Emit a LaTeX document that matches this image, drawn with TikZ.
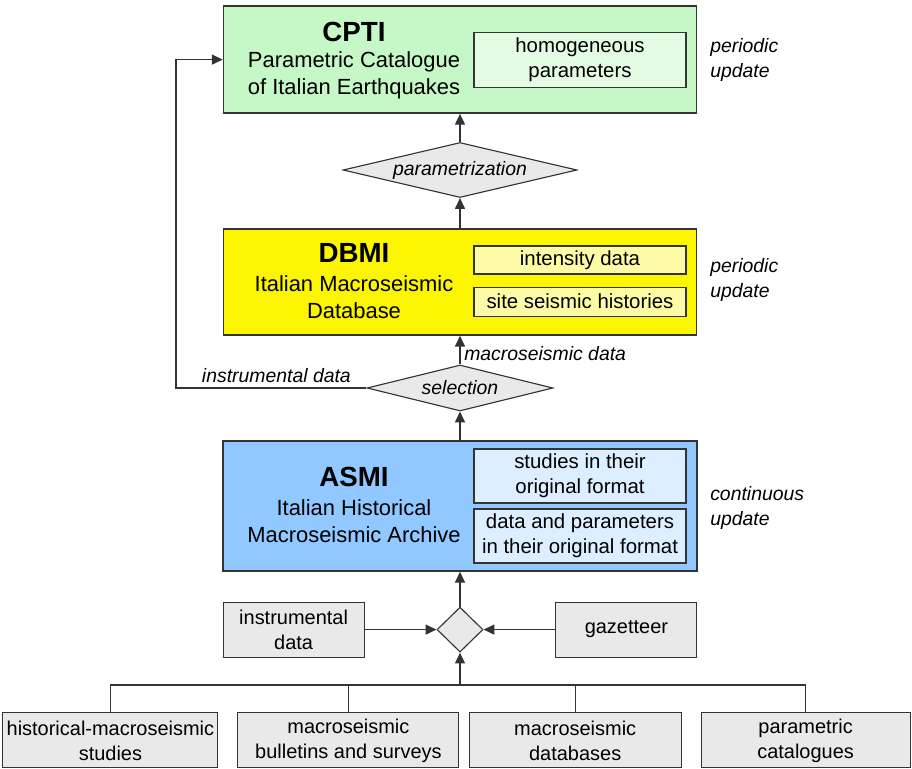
\documentclass[tikz,border=0pt]{standalone}
\usepackage{fontspec}
\setmainfont{Liberation Sans}
\usepackage{xcolor}
\usepackage{tikz}
\usetikzlibrary{positioning, shapes, arrows.meta}
\definecolor{linegray}{HTML}{333333}
\definecolor{cptigreen}{HTML}{C6F7C6}
\definecolor{cptilight}{HTML}{E4FCE4}
\definecolor{dbmiyellow}{HTML}{FBF500}
\definecolor{dbmilight}{HTML}{FDFBA6}
\definecolor{asmiblue}{HTML}{90C8FF}
\definecolor{asmilight}{HTML}{DCEEFF}
\definecolor{boxgray}{HTML}{E9E9E9}

\begin{document}
\begin{tikzpicture}
            [
            bigbox/.style={rectangle,draw=linegray,line width=1.1pt,minimum width=11.825cm,inner sep=0},
            subbox/.style={rectangle,draw=linegray,line width=0.8pt,minimum width=5.3cm,inner sep=0,align=center,
                font=\fontsize{14.5}{17.8}\selectfont},
            title/.style={font=\fontsize{19.7}{22}\selectfont\bfseries},
            desc/.style={align=center,font=\fontsize{15.6}{19.2}\selectfont},
            note/.style={align=left,anchor=west,inner sep=0,font=\fontsize{13.8}{17.8}\selectfont\itshape},
            srcbox/.style={rectangle,draw=linegray,line width=0.8pt,fill=boxgray,minimum height=1.375cm,inner sep=0,
                align=center,font=\fontsize{14.2}{17.8}\selectfont},
            decision/.style={diamond,draw=linegray,line width=0.8pt,fill=boxgray,inner sep=0,
                font=\fontsize{13.8}{16}\selectfont\itshape},
            arr/.style={draw=linegray,line width=0.9pt,-{Triangle[length=2.7mm,width=2.5mm]}},
            link/.style={draw=linegray,line width=0.9pt}
            ]
        \useasboundingbox (0,0) rectangle (22.8,-19.225);
        % CPTI
        \node[bigbox,fill=cptigreen,minimum height=2.675cm] (cpti) at (11.5,-1.49) {};
        \node[title] (cptititle) at (8.85,-0.8) {CPTI};
        \node[desc] (cptitext) at (8.85,-1.89) {Parametric Catalogue\\of Italian Earthquakes};
        \node[subbox,fill=cptilight,minimum height=1.375cm] (homog) at (14.5,-1.49) {homogeneous\\parameters};
        \node[note] (upd1) at (17.75,-1.49) {periodic\\update};
        \node[decision,aspect=4.25,minimum width=5.85cm,minimum height=1.375cm] (param) at (11.5,-4.25) {parametrization};
        % DBMI
        \node[bigbox,fill=dbmiyellow,minimum height=2.65cm] (dbmi) at (11.5,-7.05) {};
        \node[title] (dbmititle) at (8.85,-6.33) {DBMI};
        \node[desc] (dbmitext) at (8.85,-7.43) {Italian Macroseismic\\Database};
        \node[subbox,fill=dbmilight,minimum height=0.7cm] (intens) at (14.5,-6.5) {intensity data};
        \node[subbox,fill=dbmilight,minimum height=0.725cm] (histories) at (14.5,-7.54) {site seismic histories};
        \node[note] (upd2) at (17.75,-7.0) {periodic\\update};
        \node[decision,aspect=4,minimum width=4.65cm,minimum height=1.15cm] (select) at (11.5,-9.7) {selection};
        \node[note,anchor=west] (macrolbl) at (11.6,-8.85) {macroseismic data};
        \node[note,anchor=center] (instlbl) at (6.91,-9.38) {instrumental data};
        % ASMI
        \node[bigbox,fill=asmiblue,minimum width=11.85cm,minimum height=3.25cm] (asmi) at (11.5,-12.65) {};
        \node[title] (asmititle) at (8.85,-11.93) {ASMI};
        \node[desc] (asmitext) at (8.85,-13.04) {Italian Historical\\Macroseismic Archive};
        \node[subbox,fill=asmilight,minimum height=1.35cm] (studies) at (14.5,-11.9) {studies in their\\original format};
        \node[subbox,fill=asmilight,minimum height=1.35cm] (params) at (14.5,-13.4) {data and parameters\\in their original format};
        \node[note] (upd3) at (17.75,-12.69) {continuous\\update};
        % sources
        \node[decision,minimum width=1.15cm,minimum height=1.125cm] (merge) at (11.5,-15.74) {};
        \node[srcbox,minimum width=3.525cm] (instr) at (7.34,-15.74) {instrumental\\data};
        \node[srcbox,minimum width=3.525cm] (gazet) at (15.66,-15.74) {gazetteer};
        \node[srcbox,minimum width=5.375cm] (histstud) at (2.76,-18.51) {historical-macroseismic\\studies};
        \node[srcbox,minimum width=5.525cm] (bulletin) at (8.71,-18.51) {macroseismic\\bulletins and surveys};
        \node[srcbox,minimum width=5.3cm] (databases) at (14.38,-18.51) {macroseismic\\databases};
        \node[srcbox,minimum width=5.225cm] (catalog) at (20.14,-18.51) {parametric\\catalogues};
        \coordinate (join) at (11.5,-17.125);
        \coordinate (bend) at (4.4,-9.7);
        % connectors
        \draw[arr] (param) -- (cpti);
        \draw[arr] (dbmi) -- (param);
        \draw[arr] (select) -- (dbmi);
        \draw[arr] (asmi) -- (select);
        \draw[arr] (merge) -- (asmi);
        \draw[arr] (instr) -- (merge);
        \draw[arr] (gazet) -- (merge);
        \draw[arr] (join) -- (merge);
        \draw[arr] (select.west) -- (bend) |- (cpti.west);
        \draw[link] (histstud.north) |- (join);
        \draw[link] (catalog.north) |- (join);
        \draw[link] (bulletin.north) -- (bulletin.north |- join);
        \draw[link] (databases.north) -- (databases.north |- join);
        \end{tikzpicture}
\end{document}
